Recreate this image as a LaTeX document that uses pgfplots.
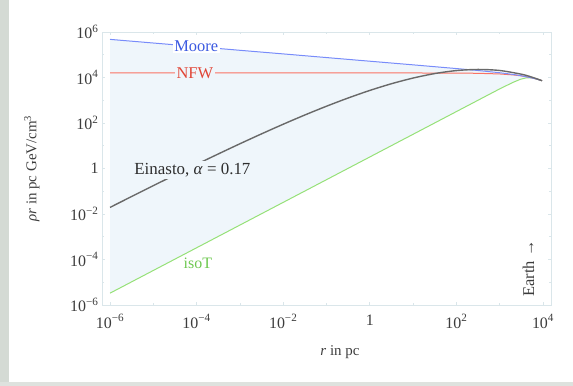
\documentclass[border=0pt]{standalone}
\usepackage{pgfplots}
\pgfplotsset{compat=1.18}
\usepgfplotslibrary{fillbetween}
\usepackage{fontspec}
\setmainfont{Liberation Serif}
\definecolor{moorec}{RGB}{120,140,250}
\definecolor{mooret}{RGB}{60,90,225}
\definecolor{nfwc}{RGB}{250,115,100}
\definecolor{nfwt}{RGB}{225,70,55}
\definecolor{einc}{RGB}{105,105,105}
\definecolor{isoc}{RGB}{150,225,120}
\definecolor{isot}{RGB}{110,200,80}
\definecolor{shadec}{RGB}{239,246,251}
\definecolor{framec}{RGB}{218,230,234}
\definecolor{tickt}{RGB}{60,60,60}
\begin{document}
\begin{tikzpicture}
\path (-102bp,-81bp) rectangle (471bp,305bp);
\fill[color={rgb,255:red,212;green,218;blue,212}] (-102bp,-81bp) rectangle (-93bp,305bp);
\fill[color={rgb,255:red,222;green,226;blue,222}] (-102bp,-81bp) rectangle (471bp,-77bp);
\begin{axis}[at={(0,0)}, anchor=south west, scale only axis,
  width=449bp, height=273bp,
  xmode=log, ymode=log,
  xmin=6.53e-7, xmax=1.53e4, ymin=1e-6, ymax=1e6,
  axis line style={draw=framec},
  xtick={1e-6,1e-4,1e-2,1,1e2,1e4},
  xticklabels={10\textsuperscript{−6},10\textsuperscript{−4},10\textsuperscript{−2},1,10\textsuperscript{2},10\textsuperscript{4}},
  minor xtick={1e-5,1e-3,1e-1,1e1,1e3},
  ytick={1e-6,1e-4,1e-2,1,1e2,1e4,1e6},
  yticklabels={10\textsuperscript{−6},10\textsuperscript{−4},10\textsuperscript{−2},1,10\textsuperscript{2},10\textsuperscript{4},10\textsuperscript{6}},
  minor ytick={1e-5,1e-3,1e-1,1e1,1e3,1e5},
  tick align=inside, major tick length=3bp, minor tick length=2bp,
  tick style={draw=framec, line width=0.8bp},
  ticklabel style={font=\fontsize{16}{16}\selectfont, text=tickt},
  xticklabel style={yshift=-6bp},
  xlabel={\textit{r} in pc},
  ylabel={\textit{ρr} in pc GeV/cm\textsuperscript{3}},
  label style={font=\fontsize{15}{15}\selectfont, text=tickt},
  xlabel style={at={(axis description cs:0.53,-0.172)}, anchor=center},
  ylabel style={at={(axis description cs:-0.156,0.5)}, anchor=center},
]
\addplot[draw=none, name path=moorep, forget plot] table {
1e-6 4.74e5
1e-5 3.28e5
1e-4 2.27e5
1e-3 1.57e5
1e-2 1.09e5
1e-1 7.52e4
1 5.20e4
10 3.60e4
100 2.47e4
300 2.05e4
1000 1.62e4
2000 1.37e4
3000 1.21e4
5000 1.00e4
7000 8.57e3
9500 7.24e3
};
\addplot[draw=none, name path=isop, forget plot] table {
1e-6 3.31e-6
1000 3162
2000 6026
3000 8318
4000 9550
5000 9772
6000 9333
7000 8610
8000 7943
9500 7244
};
\addplot[fill=shadec, draw=none, forget plot] fill between[of=moorep and isop];
% isoT
\addplot[isoc, line width=1bp] table {
1e-6 3.31e-6
1000 3162
2000 6026
3000 8318
4000 9550
5000 9772
6000 9333
7000 8610
8000 7943
9500 7244
};
% NFW
\addplot[nfwc, line width=1bp] table {
1e-6 1.58e4
1 1.58e4
10 1.58e4
100 1.563e4
300 1.531e4
1000 1.432e4
2000 1.303e4
3000 1.194e4
5000 1.009e4
7000 8.65e3
9500 7.24e3
};
% Moore
\addplot[moorec, line width=1bp] table {
1e-6 4.74e5
1e-5 3.28e5
1e-4 2.27e5
1e-3 1.57e5
1e-2 1.09e5
1e-1 7.52e4
1 5.20e4
10 3.60e4
100 2.47e4
300 2.05e4
1000 1.62e4
2000 1.37e4
3000 1.21e4
5000 1.00e4
7000 8.57e3
9500 7.24e3
};
% Einasto
\addplot[einc, line width=1.4bp, smooth] table {
1e-6 1.945e-2
3.162e-6 5.89e-2
1e-5 0.1762
3.162e-5 0.521
1e-4 1.521
3.162e-4 4.355
1e-3 12.22
3.162e-3 33.34
1e-2 88.3
3.162e-2 224.9
1e-1 547
3.162e-1 1256
1 2698
3.162 5321
10 9462
31.62 1.489e4
100 2.014e4
316.2 2.259e4
1000 2.032e4
3162 1.396e4
5000 1.104e4
8000 8.17e3
9500 7.16e3
};
\node[fill=white, inner sep=1.5bp, text=mooret, font=\fontsize{16.5}{16.5}\selectfont] at (axis cs:9.8e-5,2.4e5) {Moore};
\node[fill=shadec, inner sep=1.5bp, text=nfwt, font=\fontsize{16.5}{16.5}\selectfont] at (axis cs:9.1e-5,1.58e4) {NFW};
\node[fill=shadec, inner sep=2bp, text={rgb,255:red,45;green,45;blue,45}, font=\fontsize{17}{17}\selectfont] at (axis cs:8.0e-5,0.85) {Einasto, \textit{α} = 0.17};
\node[text=isot, font=\fontsize{16}{16}\selectfont] at (axis cs:1.07e-4,6.5e-5) {isoT};
\node[rotate=90, text=tickt, font=\fontsize{16.5}{16.5}\selectfont] at (axis cs:4.6e3,4.0e-5) {Earth →};
\end{axis}
\end{tikzpicture}
\end{document}
